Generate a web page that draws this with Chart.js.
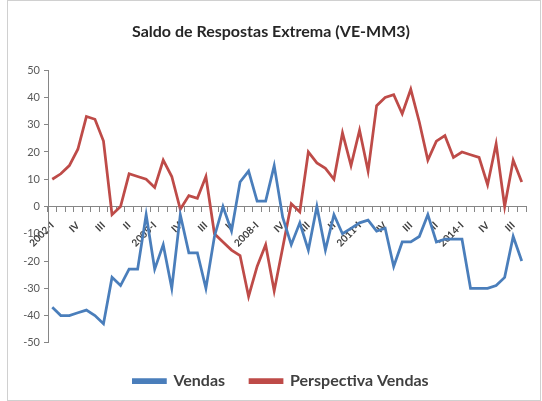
<!DOCTYPE html>
<html>
<head>
<meta charset="utf-8">
<script src="https://cdn.jsdelivr.net/npm/chart.js@4.4.1/dist/chart.umd.min.js"></script>
<style>
  html, body { margin: 0; padding: 0; background: #fff; }
  #wrap { position: relative; width: 542px; height: 401px; }
</style>
</head>
<body>
<div id="wrap"><canvas id="chart" width="542" height="401"></canvas></div>
<script>
// quarters 2002-I .. 2015-IV
const quarters = [
  '2002-I','II','III','IV', '2003-I','II','III','IV', '2004-I','II','III','IV',
  '2005-I','II','III','IV', '2006-I','II','III','IV', '2007-I','II','III','IV',
  '2008-I','II','III','IV', '2009-I','II','III','IV', '2010-I','II','III','IV',
  '2011-I','II','III','IV', '2012-I','II','III','IV', '2013-I','II','III','IV',
  '2014-I','II','III','IV', '2015-I','II','III','IV'
];

const vendas = [
  -37, -40, -40, -39, -38, -40, -43, -26, -29, -23, -23, -3, -23, -14,
  -30, -3, -17, -17, -30, -11, 0, -9, 9, 13, 2, 2, 15, -4,
  -14, -6, -16, 0, -16, -3, -10, -8, -6, -5, -9, -8, -22, -13,
  -13, -11, -3, -13, -12, -12, -12, -30, -30, -30, -29, -26, -11, -20
];

const perspectivaVendas = [
  10, 12, 15, 21, 33, 32, 24, -3, 0, 12, 11, 10, 7, 17,
  11, -1, 4, 3, 11, -10, -13, -16, -18, -33, -22, -14, -31, -15,
  1, -2, 20, 16, 14, 10, 27, 15, 28, 13, 37, 40, 41, 34,
  43, 31, 17, 24, 26, 18, 20, 19, 18, 8, 23, 0, 17, 9
];

const labelEvery = 3;
const blue = '#4a7ebb';
const red = '#be4b48';
const axisGray = '#868686';
const font = 'Lato, "Open Sans", sans-serif';

// light frame around the chart, and nudge title/legend a bit to the right
const frame = {
  id: 'frame',
  afterLayout(chart) {
    chart.titleBlock.left += 4;
    chart.titleBlock.right += 4;
    chart.legend.left += 14;
    chart.legend.right += 14;
  },
  beforeDraw(chart) {
    const ctx = chart.ctx;
    ctx.save();
    ctx.fillStyle = '#fff';
    ctx.fillRect(0, 0, chart.width, chart.height);
    ctx.strokeStyle = '#d0d0d0';
    ctx.lineWidth = 1;
    ctx.strokeRect(7.5, 0.5, chart.width - 9, chart.height - 1);
    ctx.restore();
  }
};

new Chart(document.getElementById('chart'), {
  type: 'line',
  data: {
    labels: quarters,
    datasets: [
      {
        label: 'Vendas',
        data: vendas,
        borderColor: blue,
        backgroundColor: blue,
        borderWidth: 2.75,
        pointRadius: 0,
        tension: 0
      },
      {
        label: 'Perspectiva Vendas',
        data: perspectivaVendas,
        borderColor: red,
        backgroundColor: red,
        borderWidth: 2.75,
        pointRadius: 0,
        tension: 0
      }
    ]
  },
  options: {
    responsive: false,
    animation: false,
    layout: { padding: { left: 8, right: 16, top: 0, bottom: 2 } },
    plugins: {
      title: {
        display: true,
        text: 'Saldo de Respostas Extrema (VE-MM3)',
        color: '#262626',
        font: { family: font, size: 16, weight: 'bold' },
        padding: { top: 22, bottom: 29 }
      },
      legend: {
        position: 'bottom',
        title: { display: true, text: '', font: { size: 1 }, padding: { top: 2, bottom: 2 } },
        labels: {
          boxWidth: 32,
          boxHeight: 3,
          color: '#404040',
          font: { family: font, size: 16, weight: 'bold' },
          padding: 25
        }
      },
      tooltip: { enabled: false }
    },
    scales: {
      x: {
        position: { y: 0 },
        offset: true,
        border: { color: axisGray, width: 1 },
        grid: {
          offset: true,
          drawOnChartArea: false,
          drawTicks: true,
          tickLength: 5,
          color: axisGray
        },
        ticks: {
          autoSkip: false,
          minRotation: 45,
          maxRotation: 45,
          padding: 8,
          color: '#404040',
          font: { family: font, size: 10, weight: 'bold' },
          callback: function (v, i) {
            return i % labelEvery === 0 ? this.getLabelForValue(v) : '';
          }
        }
      },
      y: {
        min: -50,
        max: 50,
        border: { color: axisGray, width: 1 },
        grid: {
          drawOnChartArea: false,
          drawTicks: true,
          tickLength: 4,
          color: axisGray
        },
        ticks: {
          stepSize: 10,
          padding: 4,
          color: '#595959',
          font: { family: font, size: 11 }
        },
        afterFit(scale) { scale.width = 40; }
      }
    }
  },
  plugins: [frame]
});
</script>
</body>
</html>
